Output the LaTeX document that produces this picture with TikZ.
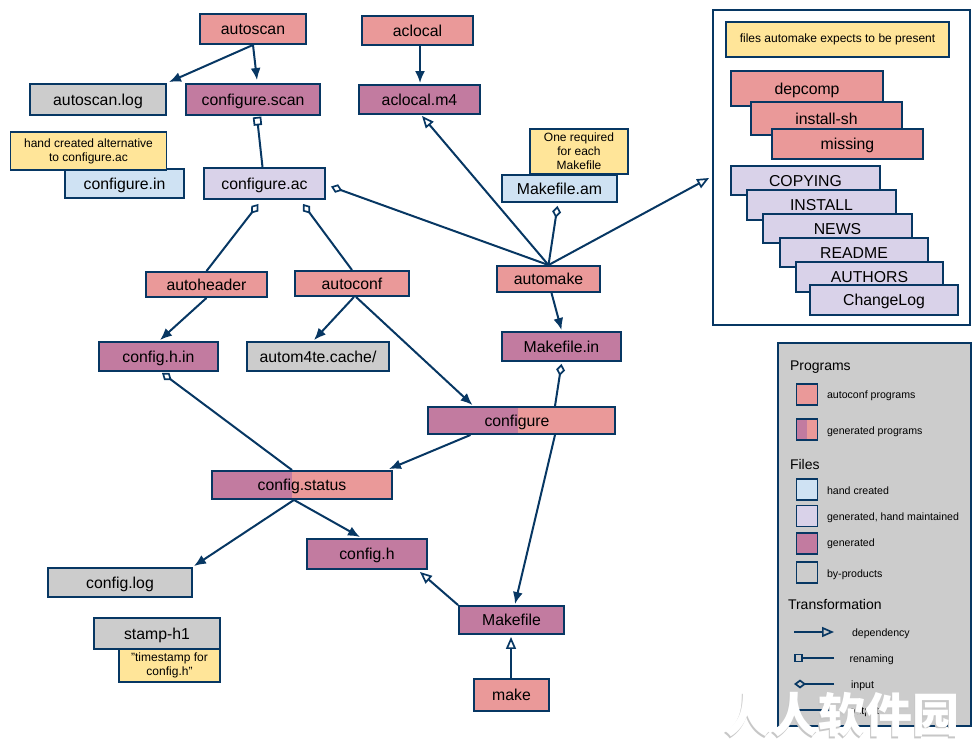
\documentclass[tikz,border=0pt]{standalone}
\usepackage{fontspec}
\setmainfont{Liberation Sans}
\newfontfamily\cjkfont{Noto Sans CJK SC}
\usetikzlibrary{arrows.meta}
\definecolor{progcol}{HTML}{EA9999}
\definecolor{gencol}{HTML}{C27BA0}
\definecolor{handcol}{HTML}{CFE2F3}
\definecolor{maintcol}{HTML}{D9D2E9}
\definecolor{bycol}{HTML}{CCCCCC}
\definecolor{notecol}{HTML}{FFE599}
\definecolor{linecol}{HTML}{073763}
\tikzset{
  box/.style={draw=linecol,line width=1.9pt,inner sep=0pt,align=center,text height=11.5pt,text depth=0pt,font=\fontsize{15.8}{18}\selectfont},
  prog/.style={box,fill=progcol},
  gen/.style={box,fill=gencol},
  hand/.style={box,fill=handcol},
  maint/.style={box,fill=maintcol},
  byprod/.style={box,fill=bycol},
  note/.style={box,fill=notecol,text height=,text depth=,font=\fontsize{12}{14}\selectfont},
  twotone/.style={box,fill=progcol,path picture={\fill[gencol] (path picture bounding box.south west) rectangle ([xshift=#1]path picture bounding box.north);}},
  swatch/.style={minimum width=21pt,minimum height=21pt},
  head/.style={anchor=west,font=\fontsize{14}{16}\selectfont},
  small/.style={anchor=west,yshift=-2pt,font=\fontsize{10.6}{12}\selectfont},
  link/.style={draw=linecol,line width=2pt},
  dep/.style={link,-{Latex[length=12pt,width=10pt]}},
  depend/.style={link,-{Triangle[open,length=12pt,width=10pt,line width=1.7pt]}},
  rename/.style={link,-{Square[open,length=8.5pt,width=8.5pt,line width=1.7pt]}},
  input/.style={link,-{Diamond[open,length=12pt,width=9pt,line width=1.7pt]}}
}
\begin{document}
\begin{tikzpicture}[x=1pt,y=-1pt]
\useasboundingbox (0,0) rectangle (977,749);
% frame of expected files and legend
\node[box,fill=white,minimum width=257,minimum height=315] (expected) at (841.5,167.5) {};
\node[box,fill=bycol,minimum width=193,minimum height=383] (legend) at (874.5,534.5) {};
% programs and files
\node[prog,minimum width=106,minimum height=30] (autoscan) at (253,29) {autoscan};
\node[prog,minimum width=111,minimum height=29] (aclocal) at (417.5,30.5) {aclocal};
\node[byprod,minimum width=136,minimum height=31] (autoscanlog) at (98,99.5) {autoscan.log};
\node[gen,minimum width=134,minimum height=31] (configurescan) at (253,99.5) {configure.scan};
\node[gen,minimum width=121,minimum height=29] (aclocalmf) at (419.5,99.5) {aclocal.m4};
\node[hand,minimum width=119,minimum height=29] (configurein) at (124.5,183.5) {configure.in};
\node[note,minimum width=156,minimum height=38] (innote) at (88.5,151) {hand created alternative\\to configure.ac};
\node[maint,minimum width=121,minimum height=31] (configureac) at (264.5,183.5) {configure.ac};
\node[note,minimum width=98,minimum height=45] (amnote) at (579,151.5) {One required\\for each\\Makefile};
\node[hand,minimum width=115,minimum height=27] (makefileam) at (559.5,188.5) {Makefile.am};
\node[prog,minimum width=121,minimum height=25] (autoheader) at (206.5,284.5) {autoheader};
\node[prog,minimum width=114,minimum height=25] (autoconf) at (352,283.5) {autoconf};
\node[prog,minimum width=103,minimum height=26] (automake) at (548.5,279) {automake};
\node[gen,minimum width=119,minimum height=29] (makefilein) at (561.5,346.5) {Makefile.in};
\node[gen,minimum width=119,minimum height=29] (confighin) at (158.5,356.5) {config.h.in};
\node[byprod,minimum width=142,minimum height=29] (autom) at (318,356.5) {autom4te.cache/};
\node[twotone=-3.5pt,minimum width=187,minimum height=27,text width=179pt,align=center] (configure) at (521.5,420.5) {\hspace*{-9pt}configure};
\node[twotone=-10pt,minimum width=180,minimum height=28,text width=172pt,align=center] (configstatus) at (302,485) {config.status};
\node[gen,minimum width=120,minimum height=30] (configh) at (367,554) {config.h};
\node[byprod,minimum width=144,minimum height=29] (configlog) at (120,582.5) {config.log};
\node[byprod,minimum width=126,minimum height=31] (stamp) at (157,633.5) {stamp-h1};
\node[note,minimum width=101,minimum height=33] (stampnote) at (169.5,665.5) {"timestamp for\\config.h"};
\node[gen,minimum width=105,minimum height=28] (makefile) at (511.5,620) {Makefile};
\node[prog,minimum width=75,minimum height=32] (make) at (511.5,695) {make};
% files automake expects
\node[note,minimum width=223,minimum height=35] (expnote) at (837.5,39.5) {files automake expects to be present};
\node[prog,minimum width=152,minimum height=35] (depcomp) at (807,88.5) {depcomp};
\node[prog,minimum width=151,minimum height=33] (installsh) at (826.5,118.5) {install-sh};
\node[prog,minimum width=151,minimum height=30] (missing) at (847.5,144) {missing};
\node[maint,minimum width=149,minimum height=29] (copying) at (805.5,180.5) {COPYING};
\node[maint,minimum width=149,minimum height=30] (install) at (821.5,205) {INSTALL};
\node[maint,minimum width=149,minimum height=29] (news) at (837.5,228.5) {NEWS};
\node[maint,minimum width=148,minimum height=29] (readme) at (854,252.5) {README};
\node[maint,minimum width=147,minimum height=30] (authors) at (869.5,277) {AUTHORS};
\node[maint,minimum width=148,minimum height=30] (changelog) at (884,300) {ChangeLog};
% connectors
\draw[dep] (autoscan.south) -- ([shift={(2,-1)}]autoscanlog.north east);
\draw[dep] (autoscan.south) -- ([shift={(4,-3)}]configurescan.north);
\draw[rename] (configureac.north) ++(-2,0) -- ([shift={(4,1)}]configurescan.south);
\draw[input] (automake.north) -- ([shift={(5,3)}]configureac.east);
\draw[input] (autoheader.north) -- ([shift={(-6,4)}]configureac.south);
\draw[input] (autoconf.north) -- ([shift={(38.5,4)}]configureac.south);
\draw[dep] (aclocal.south) ++(2.5,0) -- ([shift={(0.5,-1)}]aclocalmf.north);
\draw[depend] (automake.north) -- ([shift={(2.5,1)}]aclocalmf.south);
\draw[input] (automake.north) -- ([shift={(-2,3)}]makefileam.south);
\draw[depend] (automake.north) -- ([shift={(-3,10.5)}]expected.west);
\draw[dep] (automake.south) ++(3,0) -- ([shift={(0,-1)}]makefilein.north);
\draw[dep] (autoheader.south) -- ([shift={(1.5,-1)}]confighin.north);
\draw[dep] (autoconf.south) ++(2,0) -- ([shift={(-4,-1)}]autom.north);
\draw[dep] (autoconf.south) ++(4,0) -- ([shift={(-49,-1)}]configure.north);
\draw[input] (configure.north) ++(33.5,0) -- ([shift={(0,2)}]makefilein.south);
\draw[dep] (configure.south) ++(33.5,0) -- ([shift={(3.5,-1)}]makefile.north);
\draw[dep] (configure.south) ++(-51,0) -- ([shift={(-4,-1)}]configstatus.north east);
\draw[input] (configstatus.north) ++(-10,0) -- ([shift={(3.5,1)}]confighin.south);
\draw[dep] (configstatus.south) ++(-8,0) -- ([shift={(1,-1)}]configlog.north east);
\draw[dep] (configstatus.south) ++(-8,0) -- ([shift={(-7,-1)}]configh.north);
\draw[depend] (makefile.north west) -- ([shift={(-8,2)}]configh.south east);
\draw[depend] (make.north) ++(-0.5,0) -- ([shift={(-0.5,2)}]makefile.south);
% legend
\node[head] (programs) at (786.5,367) {Programs};
\node[prog,swatch] (swprog) at (807,394.5) {};
\node[small] (lblprog) at (823.5,394) {autoconf programs};
\node[twotone=0pt,swatch] (swgenprog) at (807,429.5) {};
\node[small] (lblgenprog) at (823.5,430) {generated programs};
\node[head] (files) at (786.5,464) {Files};
\node[hand,swatch] (swhand) at (807,489.5) {};
\node[small] (lblhand) at (823.5,489) {hand created};
\node[maint,swatch] (swmaint) at (807,516) {};
\node[small] (lblmaint) at (823.5,516) {generated, hand maintained};
\node[gen,swatch] (swgen) at (807,543.5) {};
\node[small] (lblgen) at (823.5,542) {generated};
\node[byprod,swatch] (swby) at (807,572.5) {};
\node[small] (lblby) at (823.5,573) {by-products};
\node[head] (transform) at (784.5,604) {Transformation};
\node[small] (lbldep) at (848.5,632) {dependency};
\node[small] (lblren) at (846,658) {renaming};
\node[small] (lblin) at (847.5,684) {input};
\node[small] (lblout) at (846,710) {output};
\coordinate (depa) at (794,632);
\coordinate (depb) at (834,632);
\coordinate (rena) at (834,658);
\coordinate (renb) at (794,658);
\coordinate (ina) at (834,684);
\coordinate (inb) at (794,684);
\coordinate (outa) at (795,710);
\coordinate (outb) at (835,710);
\draw[depend] (depa) -- (depb);
\draw[rename] (rena) -- (renb);
\draw[input] (ina) -- (inb);
\draw[dep] (outa) -- (outb);
% mark over the corner
\node[anchor=east,font=\cjkfont\bfseries\fontsize{47}{47}\selectfont,text=black!22] (markshadow) at (962,717) {人人软件园};
\node[anchor=east,font=\cjkfont\bfseries\fontsize{47}{47}\selectfont,text=white] (mark) at (963,715) {人人软件园};
\end{tikzpicture}
\end{document}
